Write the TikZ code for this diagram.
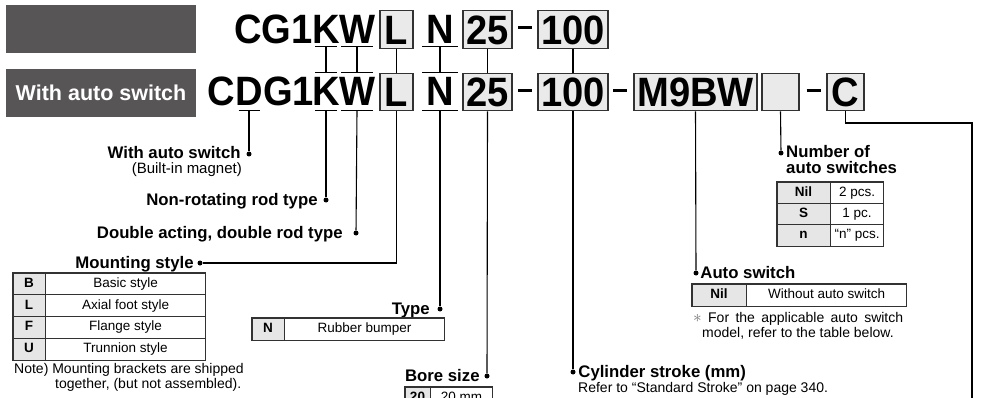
\documentclass[tikz,border=0pt]{standalone}
\usepackage{fontspec}
\setmainfont{Liberation Sans}
\newfontfamily\codefont[FakeStretch=0.93]{Liberation Sans}
\usetikzlibrary{positioning,calc}
\definecolor{hdrgray}{RGB}{88,85,86}
\definecolor{boxgray}{RGB}{234,234,234}
\definecolor{keygray}{RGB}{230,230,230}
\definecolor{edgegray}{RGB}{50,50,50}
\tikzset{
  code/.style={font=\fontsize{41}{41}\codefont\bfseries,inner sep=0pt,text height=30pt,text depth=0pt},
  codebox/.style={code,draw=edgegray,line width=1.1pt,fill=boxgray,minimum height=37.5pt},
  hyph/.style={inner sep=0pt},
  bar/.style={line width=1.1pt},
  conn/.style={line width=1.1pt},
  dot/.style={circle,fill,inner sep=0pt,minimum size=5pt},
  head/.style={font=\fontsize{16.75}{16}\selectfont\bfseries,inner sep=0pt,text height=13pt,text depth=3pt},
  note/.style={font=\fontsize{14}{15.5}\selectfont,inner sep=0pt,align=left},
  keycell/.style={draw=edgegray,line width=0.6pt,fill=keygray,font=\fontsize{13.5}{14}\selectfont\bfseries,inner sep=0pt,text height=10pt,text depth=3pt},
  valcell/.style={keycell,fill=white,font=\fontsize{13.5}{14}\selectfont},
  tbl/.style={draw=edgegray,line width=0.9pt},
  hdrbox/.style={fill=hdrgray,minimum width=190pt,minimum height=48pt,inner sep=0pt,text=white,font=\fontsize{21.5}{22}\selectfont\bfseries}
}
\newcommand{\sep}{\rule{14pt}{3pt}}
\begin{document}
\begin{tikzpicture}[x=1pt,y=-1pt]
\useasboundingbox (0,0) rectangle (981,398);
\clip (0,0) rectangle (981,398);
\node[hdrbox] (hTop) at (101,29) {};
\node[hdrbox] (hBot) at (101,93) {With auto switch};
% upper code row
\node[code,anchor=east] (tCG) at (313,28.5) {CG1};
\node[code] (tK) at (326,28.5) {K};
\node[code] (tW) at (357,28.5) {W};
\node[codebox,minimum width=33pt] (tL) at (396.5,29.5) {L};
\node[code] (tN) at (440,28.5) {N};
\node[codebox,minimum width=49pt] (t25) at (487.5,29.5) {25};
\node[hyph] (tH1) at (525,28) {\sep};
\node[codebox,minimum width=70pt] (t100) at (573,29.5) {100};
% lower code row
\node[code] (bD) at (249,91) {D};
\node[code,left=0pt of bD] (bC) {C};
\node[code,right=0pt of bD] (bG) {G1};
\node[code] (bK) at (326,91) {K};
\node[code] (bW) at (357,91) {W};
\node[codebox,minimum width=33pt] (bL) at (396.5,92) {L};
\node[code] (bN) at (440,91) {N};
\node[codebox,minimum width=49pt] (b25) at (487.5,92) {25};
\node[hyph] (bH1) at (525,91) {\sep};
\node[codebox,minimum width=70pt] (b100) at (573,92) {100};
\node[hyph] (bH2) at (620,91) {\sep};
\node[codebox,minimum width=123pt] (bM9) at (695.5,92) {M9BW};
\node[codebox,minimum width=37pt] (bSw) at (780.5,92) {};
\node[hyph] (bH3) at (813.5,91) {\sep};
\node[codebox,minimum width=37pt] (bCC) at (845.5,92) {C};
% bars over and under letters
\foreach \n/\w in {tK/11,tW/16,tN/18}
  \draw[bar] ($(\n.south)+(-\w,3)$) -- ($(\n.south)+(\w,3)$);
\foreach \n/\w in {bK/11,bW/16,bN/18}
  \draw[bar] ($(\n.north)+(-\w,-3)$) -- ($(\n.north)+(\w,-3)$);
\foreach \n/\w in {bD/10.5,bK/11,bW/16,bN/18}
  \draw[bar] ($(\n.south)+(-\w,4)$) -- ($(\n.south)+(\w,4)$);
\foreach \n in {K,W,N}
  \draw[conn] ($(t\n.south)+(0,3)$) -- ($(b\n.north)+(0,-3)$);
\foreach \n in {L,25,100}
  \draw[conn] (t\n) -- (b\n);
% left labels
\node[dot] (pWas) at (249,154) {};
\node[head,left=5.5pt of pWas] (lWas) {With auto switch};
\node[note,anchor=base east,font=\fontsize{15}{16}\selectfont] (nMag) at (242,174) {(Built-in magnet)};
\node[dot] (pNon) at (326,200) {};
\node[head,left=5.5pt of pNon] (lNon) {Non-rotating rod type};
\node[dot] (pDbl) at (356,233) {};
\node[head,left=10.5pt of pDbl] (lDbl) {Double acting, double rod type};
\node[dot] (pMnt) at (200,263) {};
\node[head,left=3.5pt of pMnt] (lMnt) {Mounting style};
\node[dot] (pTyp) at (440,309) {};
\node[head,left=7.5pt of pTyp] (lTyp) {Type};
\node[dot] (pBore) at (487,376) {};
\node[head,left=4.5pt of pBore] (lBore) {Bore size};
\draw[conn] ($(bD.south)+(0,4)$) -- (pWas);
\draw[conn] ($(bK.south)+(0,4)$) -- (pNon);
\draw[conn] ($(bW.south)+(0,4)$) -- (pDbl);
\draw[conn] (bL.south) |- (pMnt);
\draw[conn] ($(bN.south)+(0,4)$) -- (pTyp);
\draw[conn] (b25.south) -- (pBore);
% mounting table
\foreach \k/\t [count=\i] in {B/Basic style,L/Axial foot style,F/Flange style,U/Trunnion style}{
  \node[keycell,minimum width=32pt,minimum height=21.75pt] (mK\i) at (29,{262.125+21.75*\i}) {\k};
  \node[valcell,minimum width=160pt,minimum height=21.75pt,right=0pt of mK\i] (mV\i) {\t};
}
\draw[tbl] (mK1.north west) rectangle (mV4.south east);
\node[note,anchor=north west] (nMnt) at (14,363) {Note) Mounting brackets are shipped\\\hspace*{41pt}together, (but not assembled).};
% type and bore tables
\node[keycell,minimum width=32pt,minimum height=22pt] (tyK) at (268,329) {N};
\node[valcell,minimum width=160pt,minimum height=22pt,right=0pt of tyK] (tyV) {Rubber bumper};
\draw[tbl] (tyK.north west) rectangle (tyV.south east);
\node[keycell,minimum width=25pt,minimum height=22pt] (boK) at (417.5,398) {20};
\node[valcell,minimum width=62pt,minimum height=22pt,right=0pt of boK] (boV) {20 mm};
\draw[tbl] (boK.north west) rectangle (boV.south east);
% right labels
\node[dot] (pStr) at (573,372) {};
\node[head,right=2.5pt of pStr] (lStr) {Cylinder stroke (mm)};
\node[note,anchor=base west] (nStr) at (578,392) {Refer to “Standard Stroke” on page 340.};
\node[dot] (pAuto) at (696,273) {};
\node[head,right=1.5pt of pAuto] (lAuto) {Auto switch};
\node[keycell,minimum width=54pt,minimum height=22pt] (auK) at (719,295) {Nil};
\node[valcell,minimum width=160pt,minimum height=22pt,right=0pt of auK] (auV) {Without auto switch};
\draw[tbl] (auK.north west) rectangle (auV.south east);
\node[note,anchor=north west,font=\fontsize{14}{15}\selectfont] (nAuto) at (693,312) {\makebox[210pt][s]{{\color{black!55}\fontsize{17}{17}\selectfont$\ast$} For the applicable auto switch}\\\hspace*{9pt}model, refer to the table below.};
\node[dot] (pNum) at (781,153) {};
\node[font=\fontsize{16.75}{16}\selectfont\bfseries,inner sep=0pt,align=left,anchor=north west] (lNum) at (786,145) {Number of\\auto switches};
\foreach \k/\t [count=\i] in {Nil/2 pcs.,S/1 pc.,n/“n” pcs.}{
  \node[keycell,minimum width=53pt,minimum height=21.33pt] (nK\i) at (803.5,{171.33+21.33*\i}) {\k};
  \node[valcell,minimum width=53pt,minimum height=21.33pt,right=0pt of nK\i] (nV\i) {\t};
}
\draw[tbl] (nK1.north west) rectangle (nV3.south east);
\draw[conn] (b100.south) -- (pStr);
\draw[conn] (bM9.south) -- (pAuto);
\draw[conn] (bSw.south) -- (pNum);
\coordinate (cTurn) at (972,123);
\coordinate (cEnd) at (972,410);
\draw[conn] (bCC.south) |- (cTurn) -- (cEnd);
\end{tikzpicture}
\end{document}
